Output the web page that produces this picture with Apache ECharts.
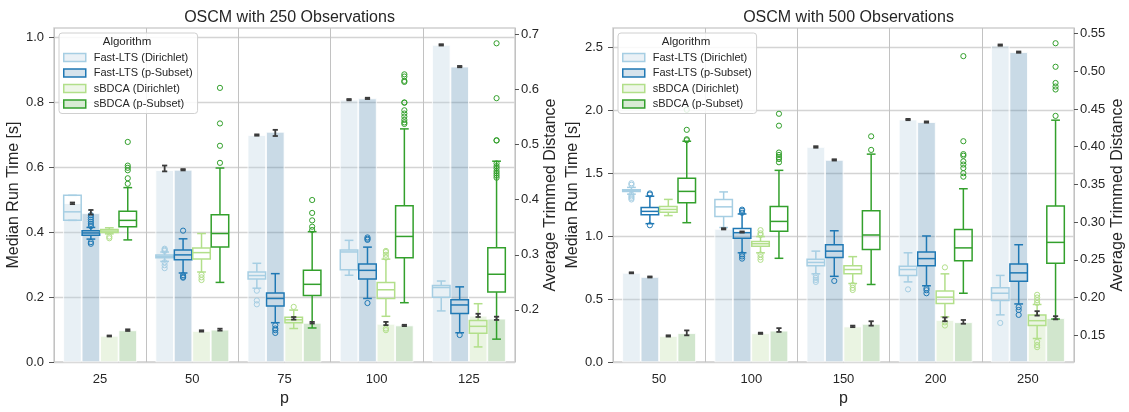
<!DOCTYPE html>
<html>
<head>
<meta charset="utf-8">
<script src="https://cdn.jsdelivr.net/npm/echarts@6/dist/echarts.min.js"></script>
<style>
  html, body { margin: 0; padding: 0; background: #ffffff; }
  #chart { width: 1129px; height: 412px; }
</style>
</head>
<body>
<div id="chart"></div>
<script>
// ---------- data ----------
const algorithms = ['Fast-LTS (Dirichlet)', 'Fast-LTS (p-Subset)', 'sBDCA (Dirichlet)', 'sBDCA (p-Subset)'];
const pValues250 = ['25', '50', '75', '100', '125'];
const pValues500 = ['50', '100', '150', '200', '250'];

// median run time [s], one row per algorithm, one column per p
const runTime250 = [
  [0.490, 0.592, 0.700, 0.809, 0.978],
  [0.459, 0.593, 0.710, 0.813, 0.911],
  [0.081, 0.096, 0.135, 0.118, 0.143],
  [0.098, 0.100, 0.121, 0.113, 0.134]
];
const runTimeCI250 = [
  [[0.487, 0.492], [0.588, 0.606], [0.698, 0.702], [0.807, 0.811], [0.976, 0.980]],
  [[0.455, 0.469], [0.591, 0.595], [0.697, 0.716], [0.811, 0.815], [0.909, 0.913]],
  [[0.079, 0.082], [0.094, 0.098], [0.131, 0.139], [0.114, 0.124], [0.139, 0.149]],
  [[0.096, 0.101], [0.097, 0.103], [0.119, 0.124], [0.111, 0.115], [0.130, 0.140]]
];
const runTime500 = [
  [0.710, 1.060, 1.711, 1.929, 2.521],
  [0.677, 1.034, 1.608, 1.909, 2.465],
  [0.208, 0.229, 0.283, 0.335, 0.385],
  [0.230, 0.250, 0.304, 0.317, 0.350]
];
const runTimeCI500 = [
  [[0.706, 0.714], [1.055, 1.065], [1.705, 1.717], [1.924, 1.934], [2.516, 2.526]],
  [[0.673, 0.681], [1.030, 1.039], [1.603, 1.613], [1.904, 1.914], [2.460, 2.470]],
  [[0.203, 0.213], [0.224, 0.234], [0.278, 0.290], [0.325, 0.355], [0.370, 0.405]],
  [[0.213, 0.252], [0.240, 0.270], [0.290, 0.325], [0.305, 0.335], [0.340, 0.365]]
];

// average trimmed distance: [whisker low, Q1, median, Q3, whisker high]
const distBox250 = [
  [[0.3625, 0.3625, 0.378, 0.408, 0.408], [0.288, 0.2945, 0.297, 0.2995, 0.305], [0.2393, 0.2558, 0.2622, 0.2687, 0.2845], [0.2628, 0.2727, 0.3051, 0.3086, 0.3262], [0.198, 0.2229, 0.2405, 0.244, 0.2523]],
  [[0.3285, 0.3356, 0.3396, 0.3438, 0.3497], [0.2669, 0.291, 0.2998, 0.3086, 0.329], [0.1766, 0.207, 0.2206, 0.2305, 0.2657], [0.2206, 0.2558, 0.2717, 0.2833, 0.3139], [0.1583, 0.1935, 0.2088, 0.2181, 0.2417]],
  [[0.338, 0.3403, 0.3431, 0.346, 0.349], [0.2687, 0.2921, 0.3039, 0.3121, 0.3386], [0.166, 0.1766, 0.1819, 0.1864, 0.1995], [0.1882, 0.2206, 0.2364, 0.2498, 0.2921], [0.1326, 0.1572, 0.17, 0.1806, 0.2111]],
  [[0.327, 0.351, 0.3625, 0.379, 0.422], [0.2498, 0.3139, 0.3386, 0.3725, 0.4576], [0.167, 0.2259, 0.2463, 0.2717, 0.342], [0.2129, 0.2945, 0.3333, 0.389, 0.5287], [0.1467, 0.2322, 0.2646, 0.3127, 0.47]]
];
const distOutliers250 = [
  [[], [0.311, 0.309, 0.307, 0.2863, 0.281, 0.2757], [0.2347, 0.217, 0.210], [], []],
  [[0.352, 0.356, 0.36, 0.364, 0.368, 0.372, 0.323, 0.320], [0.3438, 0.2629, 0.2584, 0.260], [0.1718, 0.166, 0.163, 0.158], [0.3315, 0.327, 0.329, 0.2123], [0.1542]],
  [[0.333, 0.330], [0.2639, 0.259, 0.2541], [0.2053], [0.295, 0.30, 0.305, 0.307, 0.166, 0.163], []],
  [[0.505, 0.462, 0.458, 0.4535, 0.439, 0.429], [0.467, 0.498, 0.5386, 0.6032], [0.3995, 0.376, 0.3625, 0.351, 0.345],
   [0.6278, 0.6238, 0.616, 0.614, 0.5768, 0.5762, 0.5625, 0.5566, 0.551, 0.545, 0.5405, 0.5377],
   [0.6842, 0.5845, 0.5081, 0.5075, 0.466, 0.461, 0.457, 0.452, 0.448, 0.444, 0.44]]
];
const distBox500 = [
  [[0.337, 0.3404, 0.3416, 0.3429, 0.346], [0.2928, 0.3073, 0.3202, 0.3301, 0.34], [0.2314, 0.2422, 0.2465, 0.2507, 0.2615], [0.2207, 0.2293, 0.2371, 0.2413, 0.2593], [0.177, 0.1959, 0.2057, 0.213, 0.2293]],
  [[0.2979, 0.3099, 0.3142, 0.3194, 0.3343], [0.2593, 0.2786, 0.286, 0.2915, 0.3108], [0.2281, 0.2529, 0.2615, 0.27, 0.2885], [0.2156, 0.2422, 0.2516, 0.2602, 0.2816], [0.1915, 0.2216, 0.2327, 0.2443, 0.27]],
  [[0.3086, 0.313, 0.3168, 0.3207, 0.3301], [0.2593, 0.2679, 0.2713, 0.2744, 0.2808], [0.2186, 0.2314, 0.2371, 0.2422, 0.2542], [0.1744, 0.192, 0.2005, 0.2088, 0.2314], [0.1457, 0.1629, 0.1693, 0.177, 0.1908]],
  [[0.2992, 0.3258, 0.3407, 0.358, 0.4072], [0.252, 0.288, 0.3009, 0.3207, 0.3686], [0.2173, 0.2636, 0.2829, 0.315, 0.3901], [0.2057, 0.2486, 0.2658, 0.2902, 0.3442], [0.1715, 0.2456, 0.2731, 0.3214, 0.4351]]
];
const distOutliers500 = [
  [[0.3515, 0.3495, 0.3365, 0.334, 0.332, 0.330], [], [0.229, 0.226, 0.2233, 0.2207], [0.2108], [0.1663]],
  [[0.3365, 0.338, 0.2958], [0.3124, 0.315, 0.3165, 0.2571, 0.2545, 0.2516], [0.222], [0.2121, 0.2097, 0.2057], [0.1873, 0.1835, 0.177]],
  [[], [0.2829, 0.2851, 0.2893, 0.2571, 0.2535, 0.25], [0.2165, 0.2128, 0.21], [0.24, 0.1671, 0.1629], [0.2036, 0.2, 0.1965, 0.1928, 0.1413, 0.137, 0.1342]],
  [[0.4488, 0.4223, 0.4098, 0.4085], [0.4436, 0.4278, 0.3922, 0.389, 0.386, 0.3836, 0.3793], [0.4137, 0.3957],
   [0.52, 0.4072, 0.3901, 0.388, 0.3805, 0.3763, 0.3716, 0.3648, 0.3602], [0.5371, 0.5059, 0.4844, 0.4797, 0.4758, 0.4408]]
];

// axis tick labels
const timeTicks250 = [0, 0.2, 0.4, 0.6, 0.8, 1.0];
const timeTicks500 = [0, 0.5, 1.0, 1.5, 2.0, 2.5];
const distTicks250 = [0.2, 0.3, 0.4, 0.5, 0.6, 0.7];
const distTicks500 = [0.15, 0.2, 0.25, 0.3, 0.35, 0.4, 0.45, 0.5, 0.55];

// ---------- styling ----------
const FONT = "'Liberation Sans', Arial, sans-serif";
const TEXT = '#262626';
const LINE_COLORS = ['#a6cee3', '#1f78b4', '#b2df8a', '#33a02c'];
const BAR_COLORS = ['rgba(178,205,222,0.3)', 'rgba(75,132,172,0.3)', 'rgba(185,218,158,0.3)', 'rgba(102,172,88,0.3)'];
const LEGEND_FILLS = ['#eaf1f6', '#d6e3ec', '#eef6e8', '#d8ebd4'];
const SLOT = 0.2;      // share of a category band taken by each algorithm
const BOX_HALF = 0.095; // half box width, in bands

function slotCenter(api, cat, k) {
  const band = api.size([1, 0])[0];
  return { cx: api.coord([cat, 0])[0] + (k - 1.5) * SLOT * band, band };
}

function renderBox(k) {
  return function (params, api) {
    const cat = api.value(0);
    const { cx, band } = slotCenter(api, cat, k);
    const half = BOX_HALF * band;
    const cap = half / 2;
    const y = (i) => api.coord([cat, api.value(i)])[1];
    const yMin = y(1), yQ1 = y(2), yMed = y(3), yQ3 = y(4), yMax = y(5);
    const st = () => ({ stroke: LINE_COLORS[k], lineWidth: 1.5, fill: null });
    return {
      type: 'group',
      children: [
        { type: 'line', shape: { x1: cx, y1: yQ3, x2: cx, y2: yMax }, style: st() },
        { type: 'line', shape: { x1: cx, y1: yQ1, x2: cx, y2: yMin }, style: st() },
        { type: 'line', shape: { x1: cx - cap, y1: yMax, x2: cx + cap, y2: yMax }, style: st() },
        { type: 'line', shape: { x1: cx - cap, y1: yMin, x2: cx + cap, y2: yMin }, style: st() },
        { type: 'rect', shape: { x: cx - half, y: yQ3, width: 2 * half, height: yQ1 - yQ3 }, style: st() },
        { type: 'line', shape: { x1: cx - half, y1: yMed, x2: cx + half, y2: yMed }, style: st() }
      ]
    };
  };
}

function renderOutlier(k) {
  return function (params, api) {
    const cat = api.value(0);
    const { cx } = slotCenter(api, cat, k);
    const cy = api.coord([cat, api.value(1)])[1];
    return { type: 'circle', shape: { cx: cx, cy: cy, r: 2.6 }, style: { stroke: LINE_COLORS[k], lineWidth: 1, fill: null } };
  };
}

function renderErrorBar(k) {
  return function (params, api) {
    const cat = api.value(0);
    const { cx } = slotCenter(api, cat, k);
    const yLo = api.coord([cat, api.value(1)])[1];
    const yHi = api.coord([cat, api.value(2)])[1];
    const st = () => ({ stroke: '#3b3b3b', lineWidth: 1.8 });
    return {
      type: 'group',
      children: [
        { type: 'line', shape: { x1: cx, y1: yLo, x2: cx, y2: yHi }, style: st() },
        { type: 'line', shape: { x1: cx - 2.6, y1: yLo, x2: cx + 2.6, y2: yLo }, style: st() },
        { type: 'line', shape: { x1: cx - 2.6, y1: yHi, x2: cx + 2.6, y2: yHi }, style: st() }
      ]
    };
  };
}

const axisNameStyle = { fontSize: 16, color: TEXT, fontFamily: FONT };
const tickLabelStyle = { fontSize: 13, color: TEXT, fontFamily: FONT };

function panel(p, cats, timeMax, timeStep, timeTicks, distMin, distMax, distTicks, distDigits, gaps) {
  const xAxis = {
    type: 'category', gridIndex: p, data: cats, boundaryGap: true,
    name: 'p', nameLocation: 'middle', nameGap: 25, nameTextStyle: axisNameStyle,
    axisLine: { show: false }, axisTick: { show: false },
    axisLabel: Object.assign({ interval: 0, margin: 11 }, tickLabelStyle),
    splitLine: { show: true, interval: 0, lineStyle: { color: '#c2c2c2', width: 1 } }
  };
  const yLeft = {
    type: 'value', gridIndex: p, position: 'left', min: 0, max: timeMax, interval: timeStep,
    name: 'Median Run Time [s]', nameLocation: 'middle', nameRotate: 90, nameGap: gaps[0], nameTextStyle: axisNameStyle,
    axisLine: { show: false },
    axisTick: { show: true, length: 5, customValues: timeTicks, lineStyle: { color: '#555555', width: 1 } },
    axisLabel: Object.assign({ customValues: timeTicks, margin: 10, formatter: (v) => v.toFixed(1) }, tickLabelStyle),
    splitLine: { show: true, lineStyle: { color: '#d4d4d4', width: 1.3 } }
  };
  const yRight = {
    type: 'value', gridIndex: p, position: 'right', min: distMin, max: distMax,
    name: 'Average Trimmed Distance', nameLocation: 'middle', nameRotate: 90, nameGap: gaps[1], nameTextStyle: axisNameStyle,
    axisLine: { show: false },
    axisTick: { show: true, length: 4, customValues: distTicks, lineStyle: { color: '#555555', width: 1 } },
    axisLabel: Object.assign({ customValues: distTicks, margin: 6, formatter: (v) => v.toFixed(distDigits) }, tickLabelStyle),
    splitLine: { show: false }
  };
  return { xAxis, yAxes: [yLeft, yRight] };
}

function panelSeries(p, runTime, runTimeCI, boxes, outliers) {
  const list = [];
  algorithms.forEach((name, k) => {
    list.push({
      type: 'bar', name: name, xAxisIndex: p, yAxisIndex: 2 * p, data: runTime[k],
      barGap: '0%', barCategoryGap: '20%', silent: true, z: 2,
      itemStyle: { color: BAR_COLORS[k], borderColor: '#ffffff', borderWidth: 0.8 }
    });
  });
  algorithms.forEach((name, k) => {
    list.push({
      type: 'custom', name: name + ' box', xAxisIndex: p, yAxisIndex: 2 * p + 1, silent: true, z: 3,
      data: boxes[k].map((b, c) => [c].concat(b)), renderItem: renderBox(k)
    });
    list.push({
      type: 'custom', name: name + ' outliers', xAxisIndex: p, yAxisIndex: 2 * p + 1, silent: true, z: 3,
      data: outliers[k].flatMap((vals, c) => vals.map((v) => [c, v])), renderItem: renderOutlier(k)
    });
  });
  algorithms.forEach((name, k) => {
    list.push({
      type: 'custom', name: name + ' interval', xAxisIndex: p, yAxisIndex: 2 * p, silent: true, z: 5,
      data: runTimeCI[k].map((ci, c) => [c, ci[0], ci[1]]), renderItem: renderErrorBar(k)
    });
  });
  return list;
}

function legendAt(left) {
  return {
    left: left, top: 33, orient: 'vertical', z: 10, selectedMode: false,
    padding: [19, 5, 4, 4], itemWidth: 22, itemHeight: 8, itemGap: 4.5,
    backgroundColor: 'rgba(255,255,255,0.85)', borderColor: '#d0d0d0', borderWidth: 1, borderRadius: 3,
    textStyle: { fontSize: 11, color: TEXT, fontFamily: FONT, padding: [0, 0, 0, 3] },
    data: algorithms.map((n, k) => ({
      name: n, icon: 'rect',
      itemStyle: { color: LEGEND_FILLS[k], borderColor: LINE_COLORS[k], borderWidth: 1.5 }
    }))
  };
}

function legendTitle(x) {
  return {
    type: 'text', x: x, y: 42, z: 100,
    style: { text: 'Algorithm', align: 'center', verticalAlign: 'middle', fontSize: 11.5, fill: TEXT, fontFamily: FONT }
  };
}

const left = panel(0, pValues250, 1.03, 0.2, timeTicks250, 0.105, 0.712, distTicks250, 1, [27, 28]);
const right = panel(1, pValues500, 2.657, 0.5, timeTicks500, 0.1144, 0.5573, distTicks500, 2, [29, 35]);

const option = {
  animation: false,
  backgroundColor: '#ffffff',
  textStyle: { fontFamily: FONT },
  title: [
    { text: 'OSCM with 250 Observations', left: 284.5, top: 5, textAlign: 'center',
      textStyle: { fontSize: 16, fontWeight: 'normal', color: TEXT, fontFamily: FONT } },
    { text: 'OSCM with 500 Observations', left: 843.5, top: 5, textAlign: 'center',
      textStyle: { fontSize: 16, fontWeight: 'normal', color: TEXT, fontFamily: FONT } }
  ],
  grid: [
    { left: 54, top: 28, width: 461, height: 345, show: true, borderColor: '#cfcfcf', borderWidth: 1.5, backgroundColor: 'transparent' },
    { left: 613, top: 28, width: 461, height: 345, show: true, borderColor: '#cfcfcf', borderWidth: 1.5, backgroundColor: 'transparent' }
  ],
  legend: [legendAt(59), legendAt(618)],
  graphic: [legendTitle(127), legendTitle(686)],
  xAxis: [left.xAxis, right.xAxis],
  yAxis: left.yAxes.concat(right.yAxes),
  series: panelSeries(0, runTime250, runTimeCI250, distBox250, distOutliers250)
    .concat(panelSeries(1, runTime500, runTimeCI500, distBox500, distOutliers500))
};

const chart = echarts.init(document.getElementById('chart'), null, { renderer: 'canvas' });
chart.setOption(option);
</script>
</body>
</html>
